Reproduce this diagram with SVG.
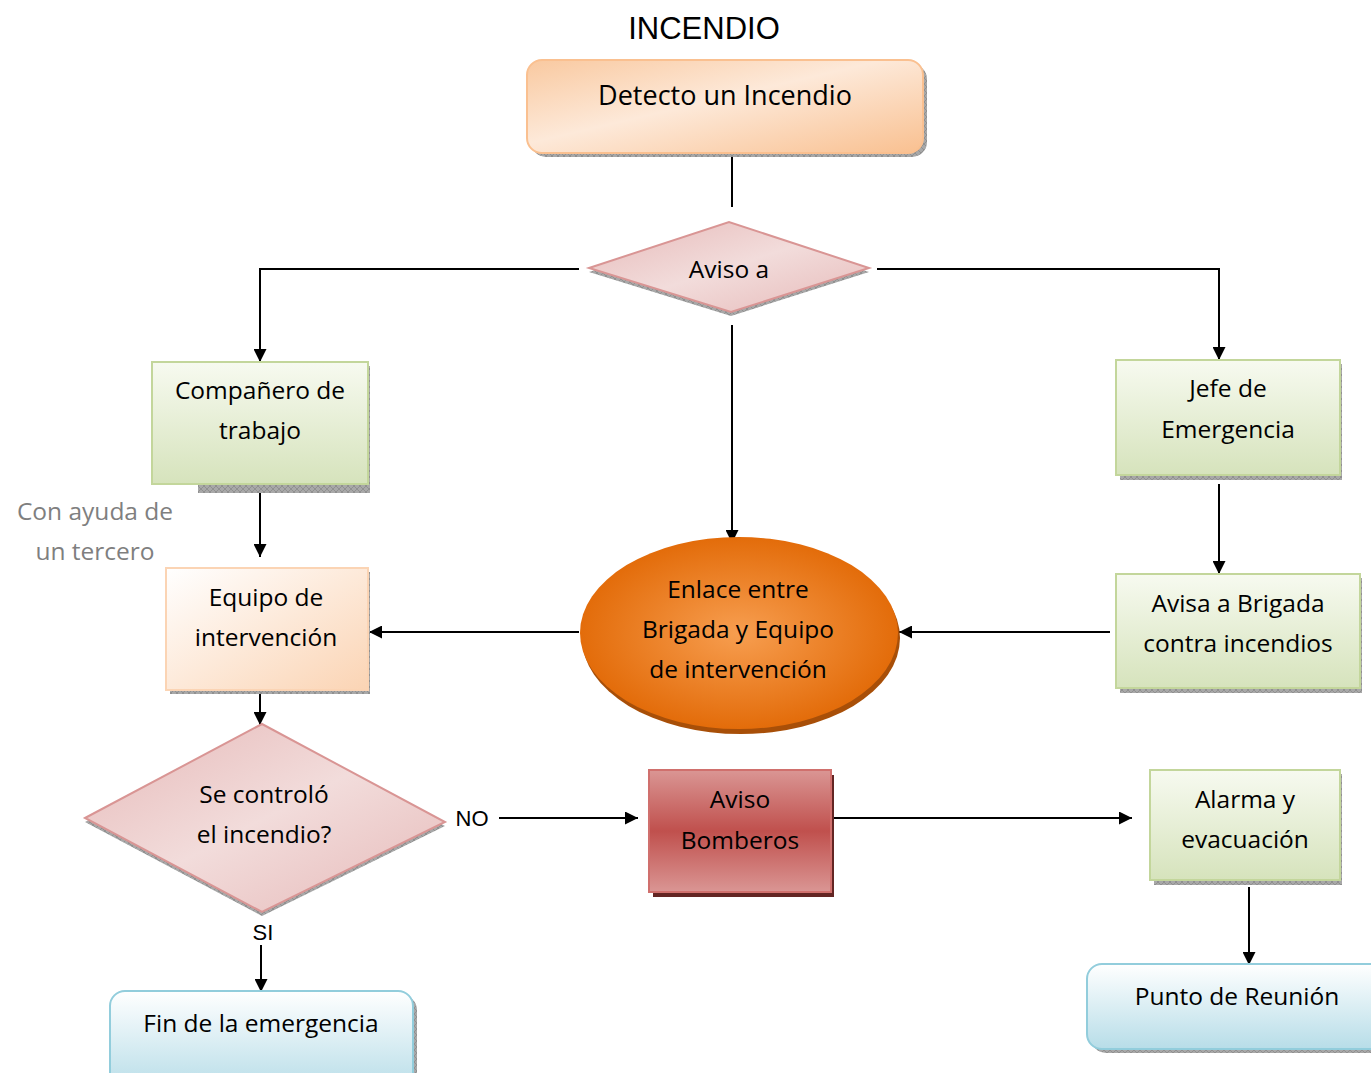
<svg xmlns="http://www.w3.org/2000/svg" width="1371" height="1073" viewBox="0 0 1371 1073">
  <defs>
    <style>
      .t { font-family: "Open Sans", "Liberation Sans", sans-serif; font-size: 24.5px; fill: #000; text-anchor: middle; }
      .g { font-family: "Open Sans", "Liberation Sans", sans-serif; font-size: 24.5px; fill: #7f7f7f; text-anchor: middle; }
      .lbl { font-family: "Liberation Sans", sans-serif; font-size: 22px; fill: #000; text-anchor: middle; }
      .title { font-family: "Liberation Sans", sans-serif; font-size: 31px; fill: #000; text-anchor: middle; }
      .conn { fill: none; stroke: #000; stroke-width: 2; }
      .arr { fill: none; stroke: #000; stroke-width: 2; marker-end: url(#ah); }
      .hatch { fill: url(#hatch); }
    </style>
    <marker id="ah" viewBox="0 0 10 10" refX="10" refY="5" markerWidth="14" markerHeight="13" markerUnits="userSpaceOnUse" orient="auto">
      <path d="M0,0 L10,5 L0,10 z" fill="#000"/>
    </marker>
    <pattern id="hatch" width="6" height="6" patternUnits="userSpaceOnUse">
      <rect width="6" height="6" fill="#a8a8a8"/>
      <path d="M0,6 L6,0 M0,0 L6,6" stroke="#8a8a8a" stroke-width="0.8"/>
    </pattern>
    <linearGradient id="gOrange" x1="0" y1="0" x2="1" y2="1">
      <stop offset="0" stop-color="#f9c9a0"/>
      <stop offset="0.45" stop-color="#fde9d9"/>
      <stop offset="1" stop-color="#f9c090"/>
    </linearGradient>
    <linearGradient id="gGreen" x1="0" y1="0" x2="0" y2="1">
      <stop offset="0" stop-color="#f7faf0"/>
      <stop offset="1" stop-color="#d6e3bc"/>
    </linearGradient>
    <linearGradient id="gPeach" x1="0" y1="0" x2="1" y2="1">
      <stop offset="0" stop-color="#ffffff"/>
      <stop offset="1" stop-color="#fbd4b4"/>
    </linearGradient>
    <linearGradient id="gPink" x1="0" y1="0" x2="1" y2="1">
      <stop offset="0" stop-color="#e6b9b8"/>
      <stop offset="0.5" stop-color="#f2dcdb"/>
      <stop offset="1" stop-color="#e6b9b8"/>
    </linearGradient>
    <linearGradient id="gRed" x1="0" y1="0" x2="0" y2="1">
      <stop offset="0" stop-color="#da9694"/>
      <stop offset="0.5" stop-color="#c0504d"/>
      <stop offset="1" stop-color="#da9694"/>
    </linearGradient>
    <linearGradient id="gBlue" x1="0" y1="0" x2="0" y2="1">
      <stop offset="0" stop-color="#ffffff"/>
      <stop offset="1" stop-color="#b7dde8"/>
    </linearGradient>
    <radialGradient id="gOval" cx="0.5" cy="0.5" r="0.5">
      <stop offset="0" stop-color="#f79e50"/>
      <stop offset="1" stop-color="#e36c0a"/>
    </radialGradient>
  </defs>

  <rect width="1371" height="1073" fill="#fff"/>

  <text class="title" x="704" y="39">INCENDIO</text>

  <!-- connectors -->
  <g id="connectors">
    <line class="conn" x1="732" y1="153" x2="732" y2="207"/>
    <polyline class="arr" points="579,269 260,269 260,362"/>
    <polyline class="arr" points="877,269 1219,269 1219,360"/>
    <line class="arr" x1="732" y1="325" x2="732" y2="543"/>
    <line class="arr" x1="260" y1="489" x2="260" y2="557"/>
    <line class="arr" x1="579" y1="632" x2="369" y2="632"/>
    <line class="arr" x1="1110" y1="632" x2="899" y2="632"/>
    <line class="arr" x1="1219" y1="484" x2="1219" y2="574"/>
    <line class="arr" x1="260" y1="683" x2="260" y2="725"/>
    <line class="arr" x1="499" y1="818" x2="638" y2="818"/>
    <line class="arr" x1="831" y1="818" x2="1132" y2="818"/>
    <line class="arr" x1="261" y1="945" x2="261" y2="992"/>
    <line class="arr" x1="1249" y1="887" x2="1249" y2="965"/>
  </g>

  <!-- start -->
  <g id="detecto">
    <rect class="hatch" x="531" y="64" width="396" height="93" rx="15"/>
    <rect x="527" y="60" width="396" height="93" rx="15" fill="url(#gOrange)" stroke="#fac090" stroke-width="2"/>
    <text class="t" x="725" y="105" style="font-size:27px">Detecto un Incendio</text>
  </g>

  <g id="aviso-a">
    <polygon class="hatch" points="589,272 729,226 869,272 731,316"/>
    <polygon points="589,268 729,222 869,268 731,312" fill="url(#gPink)" stroke="#d99594" stroke-width="2"/>
    <text class="t" x="729" y="278">Aviso a</text>
  </g>

  <g id="companero">
    <rect class="hatch" x="198" y="366" width="172" height="127"/>
    <rect x="152" y="362" width="216" height="122" fill="url(#gGreen)" stroke="#c3d69b" stroke-width="2"/>
    <text class="t" x="260" y="399">Compañero de</text>
    <text class="t" x="260" y="439">trabajo</text>
  </g>

  <g id="nota-tercero">
    <text class="g" x="95" y="520">Con ayuda de</text>
    <text class="g" x="95" y="560">un tercero</text>
  </g>

  <g id="jefe">
    <rect class="hatch" x="1120" y="364" width="222" height="116"/>
    <rect x="1116" y="360" width="224" height="115" fill="url(#gGreen)" stroke="#c3d69b" stroke-width="2"/>
    <text class="t" x="1228" y="397">Jefe de</text>
    <text class="t" x="1228" y="438">Emergencia</text>
  </g>

  <g id="enlace">
    <ellipse cx="741" cy="638" rx="159" ry="96" fill="#a84f08"/>
    <ellipse cx="739" cy="633" rx="159" ry="96" fill="url(#gOval)"/>
    <text class="t" x="738" y="598">Enlace entre</text>
    <text class="t" x="738" y="638">Brigada y Equipo</text>
    <text class="t" x="738" y="678">de intervención</text>
  </g>

  <g id="equipo">
    <rect class="hatch" x="170" y="572" width="200" height="122"/>
    <rect x="166" y="568" width="202" height="122" fill="url(#gPeach)" stroke="#fbd4b4" stroke-width="2"/>
    <text class="t" x="266" y="606">Equipo de</text>
    <text class="t" x="266" y="646">intervención</text>
  </g>

  <g id="avisa-brigada">
    <rect class="hatch" x="1120" y="578" width="242" height="115"/>
    <rect x="1116" y="574" width="244" height="114" fill="url(#gGreen)" stroke="#c3d69b" stroke-width="2"/>
    <text class="t" x="1238" y="612">Avisa a Brigada</text>
    <text class="t" x="1238" y="652">contra incendios</text>
  </g>

  <g id="se-controlo">
    <polygon class="hatch" points="85,822 262,728 445,826 262,916"/>
    <polygon points="85,818 262,724 445,822 262,912" fill="url(#gPink)" stroke="#d99594" stroke-width="2"/>
    <text class="t" x="264" y="803">Se controló</text>
    <text class="t" x="264" y="843">el incendio?</text>
  </g>

  <text class="lbl" x="472" y="826">NO</text>
  <text class="lbl" x="263" y="940">SI</text>

  <g id="aviso-bomberos">
    <rect x="653" y="775" width="181" height="122" fill="#632523"/>
    <rect x="649" y="770" width="182" height="122" fill="url(#gRed)" stroke="#d0706d" stroke-width="2"/>
    <text class="t" x="740" y="808">Aviso</text>
    <text class="t" x="740" y="849">Bomberos</text>
  </g>

  <g id="alarma">
    <rect class="hatch" x="1154" y="774" width="188" height="111"/>
    <rect x="1150" y="770" width="190" height="110" fill="url(#gGreen)" stroke="#c3d69b" stroke-width="2"/>
    <text class="t" x="1245" y="808">Alarma y</text>
    <text class="t" x="1245" y="848">evacuación</text>
  </g>

  <g id="fin">
    <rect class="hatch" x="114" y="995" width="303" height="100" rx="15"/>
    <rect x="110" y="991" width="303" height="100" rx="15" fill="url(#gBlue)" stroke="#92cddc" stroke-width="2"/>
    <text class="t" x="261" y="1032">Fin de la emergencia</text>
  </g>

  <g id="punto">
    <rect class="hatch" x="1091" y="968" width="300" height="85" rx="15"/>
    <rect x="1087" y="964" width="300" height="85" rx="15" fill="url(#gBlue)" stroke="#92cddc" stroke-width="2"/>
    <text class="t" x="1237" y="1005">Punto de Reunión</text>
  </g>
</svg>
